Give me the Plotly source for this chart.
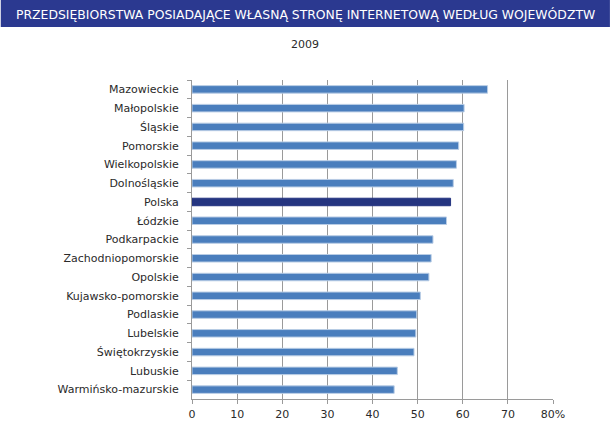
import plotly.graph_objects as go

categories = ["Mazowieckie", "Małopolskie", "Śląskie", "Pomorskie", "Wielkopolskie",
              "Dolnośląskie", "Polska", "Łódzkie", "Podkarpackie", "Zachodniopomorskie",
              "Opolskie", "Kujawsko-pomorskie", "Podlaskie", "Lubelskie", "Świętokrzyskie",
              "Lubuskie", "Warmińsko-mazurskie"]
values = [65.5, 60.3, 60.2, 59.1, 58.6, 57.9, 57.3, 56.4, 53.4, 53.0, 52.5, 50.6,
          49.8, 49.6, 49.2, 45.5, 44.8]
tick_vals = [0, 10, 20, 30, 40, 50, 60, 70, 80]
tick_text = ["0", "10", "20", "30", "40", "50", "60", "70", "80%"]
title_text = "PRZEDSIĘBIORSTWA POSIADAJĄCE WŁASNĄ STRONĘ INTERNETOWĄ WEDŁUG WOJEWÓDZTW"
subtitle_text = "2009"

W, H = 610, 434
ml, mr, mt, mb = 191.5, 57, 80, 35
pw, ph = W - ml - mr, H - mt - mb

colors = ["#253580" if c == "Polska" else "#4A7EBD" for c in categories]
line_colors = ["#253580" if c == "Polska" else "#B9CDE5" for c in categories]

fig = go.Figure(go.Bar(
    x=values, y=categories, orientation="h",
    marker=dict(color=colors, line=dict(color=line_colors, width=1)),
    width=0.4,
))

fig.update_layout(
    width=W, height=H,
    margin=dict(l=ml, r=mr, t=mt, b=mb, pad=0),
    paper_bgcolor="white", plot_bgcolor="white",
    font=dict(family="DejaVu Sans", size=11, color="#2A2A2A"),
    showlegend=False,
    xaxis=dict(range=[0, 80], tickvals=tick_vals, ticktext=tick_text,
               showgrid=True, gridcolor="#9A9A9A", gridwidth=1,
               showline=True, linecolor="#9A9A9A", linewidth=1,
               ticks="outside", ticklen=4, tickcolor="#9A9A9A",
               zeroline=False, fixedrange=True, ticklabelstandoff=1),
    yaxis=dict(autorange="reversed", type="category",
               showline=True, linecolor="#9A9A9A", linewidth=1,
               ticks="outside", ticklen=4, tickcolor="#9A9A9A",
               tickson="boundaries", showgrid=False, ticklabelstandoff=10),
    shapes=[dict(type="rect", xref="paper", yref="paper",
                 x0=-ml / pw, x1=1 + mr / pw,
                 y0=1 + (mt - 27) / ph, y1=1 + mt / ph,
                 fillcolor="#2B3990", line=dict(width=0), layer="above")],
    annotations=[
        dict(text=title_text, xref="paper", yref="paper",
             x=(W / 2 - ml) / pw, y=1 + (mt - 14) / ph, showarrow=False,
             xanchor="center", yanchor="middle",
             font=dict(family="DejaVu Sans", size=12.4, color="white")),
        dict(text=subtitle_text, xref="paper", yref="paper",
             x=(W / 2 - ml) / pw, y=1 + (mt - 45) / ph, showarrow=False,
             xanchor="center", yanchor="middle",
             font=dict(family="DejaVu Sans", size=11, color="#2A2A2A")),
    ],
)

fig.write_html("out.html", config={"displayModeBar": False},
               post_script="document.body.style.margin='0';document.body.style.overflow='hidden';")
